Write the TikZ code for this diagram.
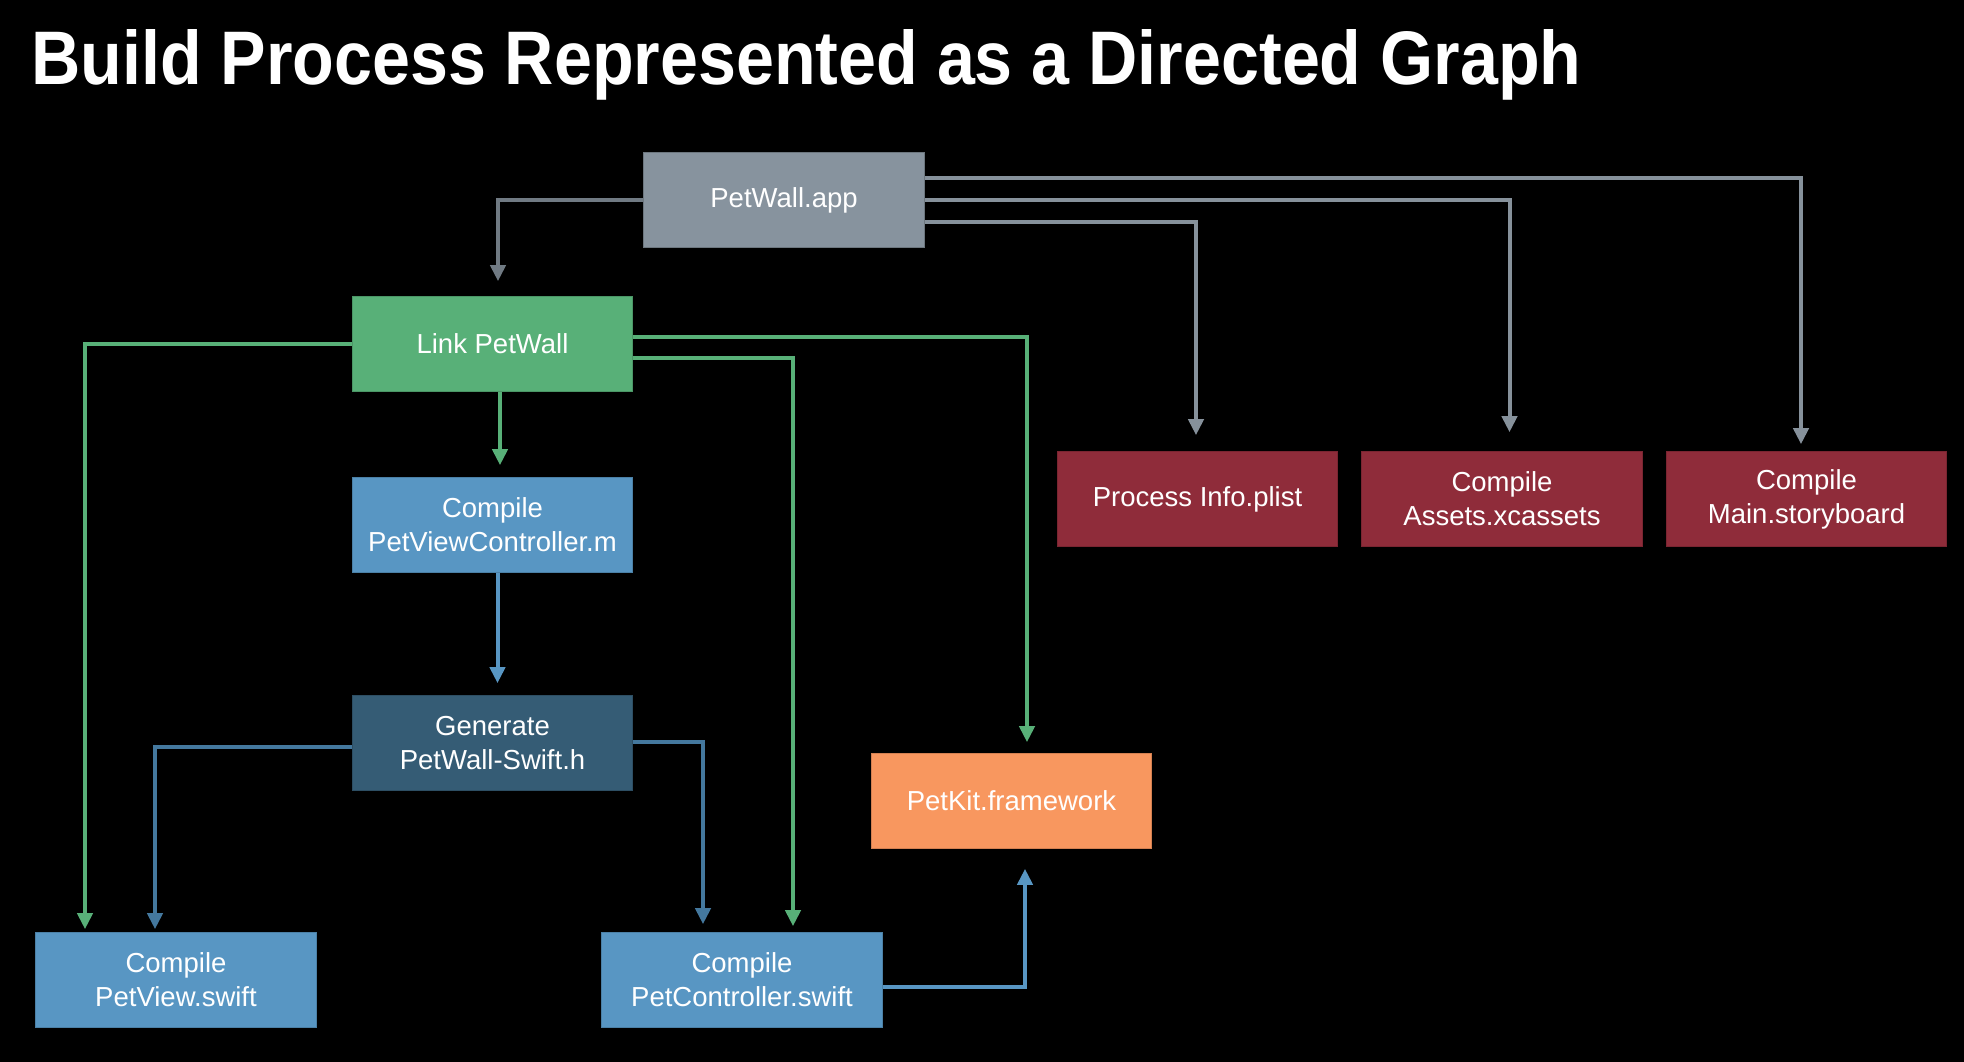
\documentclass[tikz,border=0pt]{standalone}
\usepackage{fontspec}
\setmainfont{Liberation Sans}
\usetikzlibrary{arrows.meta,calc}
\definecolor{graybox}{HTML}{87939E}
\definecolor{grayline}{HTML}{707A83}
\definecolor{graylineR}{HTML}{86919B}
\definecolor{greenbox}{HTML}{58B078}
\definecolor{bluebox}{HTML}{5896C3}
\definecolor{darkbox}{HTML}{355C75}
\definecolor{darkline}{HTML}{44789E}
\definecolor{orangebox}{HTML}{F8975F}
\definecolor{redbox}{HTML}{8F2C3A}
\begin{document}
\begin{tikzpicture}[x=1pt,y=-1pt,
  box/.style={minimum width=280.6pt, minimum height=94.6pt, inner sep=0pt,
    text=white, align=center, font=\fontsize{27.5}{34}\selectfont, line width=1pt},
  arr/.style={line width=4pt, -{Triangle[width=15pt,length=16pt]}}]
\useasboundingbox (0,0) rectangle (1964,1062);
\fill[black] (0,0) rectangle (1964,1062);

\node[anchor=base west, text=white, inner sep=0pt] (title) at (31,85)
  {\resizebox{1550pt}{55pt}{\bfseries Build Process Represented as a Directed Graph}};

\node[box, fill=graybox, draw=graybox!80!black] (app) at (784,200) {PetWall.app};
\node[box, fill=greenbox, draw=greenbox!85!black] (link) at (492.5,344) {Link PetWall};
\node[box, fill=bluebox, draw=bluebox!85!black] (pvc) at (492.5,525) {Compile\\PetViewController.m};
\node[box, fill=darkbox, draw=darkbox!85!black] (gen) at (492.5,743) {Generate\\PetWall-Swift.h};
\node[box, fill=orangebox, draw=orangebox!85!black] (kit) at (1011.5,801) {PetKit.framework};
\node[box, fill=bluebox, draw=bluebox!85!black] (pv) at (176,980) {Compile\\PetView.swift};
\node[box, fill=bluebox, draw=bluebox!85!black] (pc) at (742,980) {Compile\\PetController.swift};
\node[box, fill=redbox, draw=redbox!85!black] (info) at (1197.5,499) {Process Info.plist};
\node[box, fill=redbox, draw=redbox!85!black] (assets) at (1502,499) {Compile\\Assets.xcassets};
\node[box, fill=redbox, draw=redbox!85!black] (main) at (1806.5,499) {Compile\\Main.storyboard};

% gray connectors
\draw[arr, grayline, shorten >=15pt] (app.west) -| ([xshift=5.5pt]link.north);
\draw[arr, graylineR, shorten >=7pt] ([yshift=22pt]app.east) -| ([xshift=-5.5pt]main.north);
\draw[arr, graylineR, shorten >=19pt] (app.east) -| ([xshift=7.5pt]assets.north);
\draw[arr, graylineR, shorten >=16pt] ([yshift=-22pt]app.east) -| ([xshift=-1.5pt]info.north);

% green connectors
\draw[arr, greenbox, shorten >=3pt] (link.west) -| ([xshift=-91pt]pv.north);
\draw[arr, greenbox, shorten >=12pt] ([xshift=7.5pt]link.south) -- ([xshift=7.5pt]pvc.north);
\draw[arr, greenbox, shorten >=11pt] ([yshift=7pt]link.east) -| ([xshift=15.5pt]kit.north);
\draw[arr, greenbox, shorten >=6pt] ([yshift=-14pt]link.east) -| ([xshift=51pt]pc.north);

% blue connectors
\draw[arr, bluebox, shorten >=12pt] ([xshift=5pt]pvc.south) -- ([xshift=5pt]gen.north);
\draw[arr, darkline, shorten >=3pt] ([yshift=-4pt]gen.west) -| ([xshift=-21pt]pv.north);
\draw[arr, darkline, shorten >=8pt] ([yshift=1pt]gen.east) -| ([xshift=-39pt]pc.north);
\draw[arr, bluebox, shorten >=20pt] ([yshift=-7pt]pc.east) -| ([xshift=13.5pt]kit.south);
\end{tikzpicture}
\end{document}
